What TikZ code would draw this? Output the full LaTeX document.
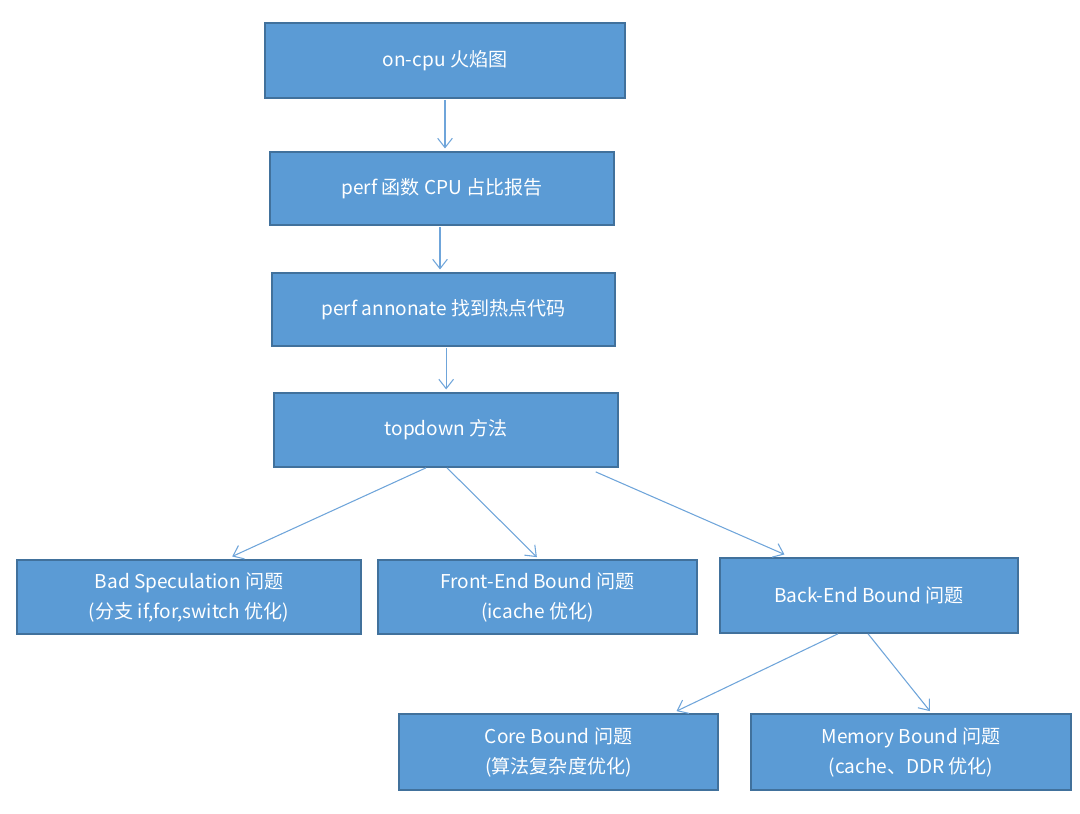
\documentclass[tikz,border=0pt]{standalone}
\usepackage{fontspec}
\setmainfont{Noto Sans CJK SC}
\usetikzlibrary{arrows.meta,calc}
\definecolor{boxfill}{HTML}{5B9BD5}
\definecolor{boxline}{HTML}{41719C}
\definecolor{arrowc}{HTML}{6FA5DA}
\tikzset{
  box/.style={draw=boxline, line width=1.3pt, fill=boxfill, text=white, align=center,
    inner sep=0pt, font=\fontsize{14.3}{22.5}\selectfont},
  conn/.style={draw=arrowc, line width=0.8pt, -{Straight Barb[length=7pt,width=11pt]}}
}
\begin{document}
\begin{tikzpicture}[x=0.75pt,y=-0.75pt]
\useasboundingbox (0,0) rectangle (1080,813);
\node[box, minimum width=360*0.75pt, minimum height=75*0.75pt] (a) at (445,60.5) {on-cpu 火焰图};
\node[box, minimum width=344*0.75pt, minimum height=73*0.75pt] (b) at (442,188.5) {perf 函数 CPU 占比报告};
\node[box, minimum width=343*0.75pt, minimum height=73*0.75pt] (c) at (443.5,309.5) {perf annonate 找到热点代码};
\node[box, minimum width=344*0.75pt, minimum height=74*0.75pt] (d) at (446,430) {topdown 方法};
\node[box, minimum width=344*0.75pt, minimum height=74*0.75pt] (e) at (189,597) {Bad Speculation 问题\\(分支 if,for,switch 优化)};
\node[box, minimum width=319*0.75pt, minimum height=74*0.75pt] (f) at (537.5,597) {Front-End Bound 问题\\(icache 优化)};
\node[box, minimum width=298*0.75pt, minimum height=75*0.75pt] (g) at (869,595.5) {Back-End Bound 问题};
\node[box, minimum width=319*0.75pt, minimum height=76*0.75pt] (h) at (558.5,752) {Core Bound 问题\\(算法复杂度优化)};
\node[box, minimum width=320*0.75pt, minimum height=76*0.75pt] (i) at (911,752) {Memory Bound 问题\\(cache、DDR 优化)};

\draw[conn] ([yshift=-1pt]a.south) -- ([yshift=2pt]a.south |- b.north);
\draw[conn] ([xshift=-1.5pt,yshift=-1pt]b.south) -- ([xshift=-1.5pt,yshift=2pt]b.south |- c.north);
\draw[conn] ([xshift=2pt,yshift=-1pt]c.south) -- ([xshift=2pt,yshift=2pt]c.south |- d.north);
\draw[conn] ($(d.south west)!0.442!(d.south east)$) -- ([yshift=2pt]$(e.north west)!0.625!(e.north east)$);
\draw[conn] ($(d.south west)!0.503!(d.south east)$) -- ([yshift=1.5pt]$(f.north west)!0.498!(f.north east)$);
\draw[conn] ([yshift=-3pt]$(d.south west)!0.933!(d.south east)$) -- ([yshift=2pt]$(g.north west)!0.218!(g.north east)$);
\draw[conn] ($(g.south west)!0.396!(g.south east)$) -- ([yshift=1.5pt]$(h.north west)!0.868!(h.north east)$);
\draw[conn] ($(g.south west)!0.497!(g.south east)$) -- ([yshift=1.5pt]$(i.north west)!0.559!(i.north east)$);
\end{tikzpicture}
\end{document}
